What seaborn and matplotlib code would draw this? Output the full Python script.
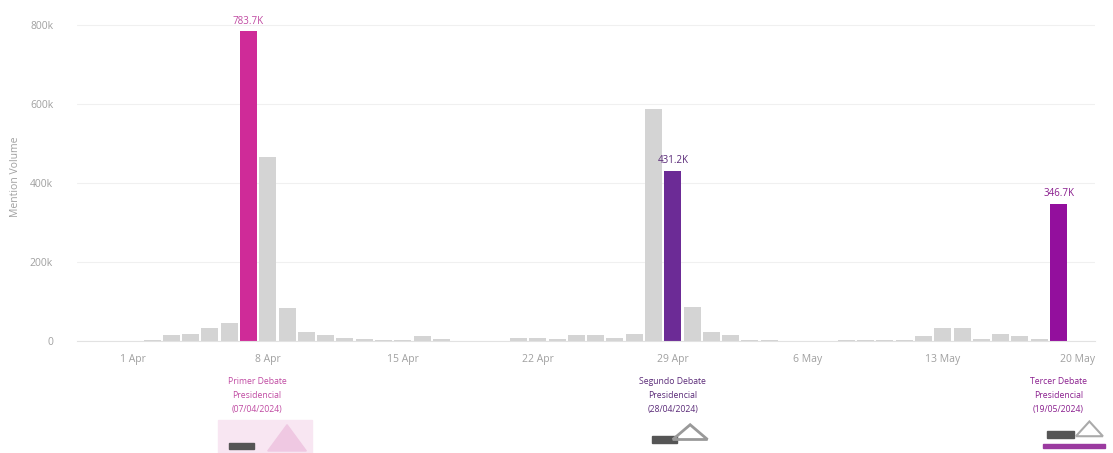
import pandas as pd
import seaborn as sns
import matplotlib.pyplot as plt
import matplotlib.transforms as mtransforms
from matplotlib.patches import Rectangle, Polygon

# Daily mention volume, 1 Apr 2024 .. 19 May 2024
dates = pd.date_range("2024-04-01", "2024-05-19", freq="D")
volume = [
    1_000, 4_000, 16_000, 17_000, 34_000, 45_000, 783_700, 465_000,
    84_000, 23_000, 15_000, 8_000, 6_000, 4_000, 4_000, 12_000,
    5_000, 500, 500, 500, 8_000, 9_000, 5_000, 15_000,
    15_000, 8_000, 19_000, 588_000, 431_200, 87_000, 24_000, 15_000,
    3_000, 2_000, 1_500, 1_000, 1_500, 2_000, 2_000, 3_000,
    2_000, 13_000, 34_000, 34_000, 6_000, 17_000, 14_000, 5_000,
    346_700,
]

# highlighted debate days
debate_dates = ["2024-04-07", "2024-04-29", "2024-05-19"]
debate_keys = ["d1", "d2", "d3"]
debate_labels = [
    "Primer Debate\nPresidencial\n(07/04/2024)",
    "Segundo Debate\nPresidencial\n(28/04/2024)",
    "Tercer Debate\nPresidencial\n(19/05/2024)",
]
value_labels = ["783.7K", "431.2K", "346.7K"]
palette = {"other": "#d4d4d4", "d1": "#cf2b98", "d2": "#6c2b96", "d3": "#930f9d"}
text_colors = {"d1": "#c04aa2", "d2": "#5a2a78", "d3": "#8a1f8e"}

tick_dates = pd.date_range("2024-04-01", "2024-05-20", freq="7D")
tick_labels = [f"{d.day} {d.strftime('%b')}" for d in tick_dates]

df = pd.DataFrame({"date": dates, "volume": volume})
df["day"] = (df["date"] - dates[0]).dt.days
df["kind"] = "other"
for d, k in zip(debate_dates, debate_keys):
    df.loc[df["date"] == pd.Timestamp(d), "kind"] = k

sns.set_style("white")
plt.rcParams["font.family"] = ["Open Sans", "DejaVu Sans"]

fig = plt.figure(figsize=(11.13, 4.53), dpi=100)
ax = fig.add_axes([0.069, 0.247, 0.915, 0.724])

sns.barplot(data=df, x="day", y="volume", hue="kind", palette=palette,
            native_scale=True, dodge=False, width=0.88, legend=False,
            saturation=1, linewidth=0, ax=ax)

ax.set_xlim(-2.9, 49.9)
ax.set_ylim(0, 830_000)
ax.set_yticks([0, 200_000, 400_000, 600_000, 800_000])
ax.set_yticklabels(["0", "200k", "400k", "600k", "800k"])
ax.set_xticks([(d - dates[0]).days for d in tick_dates])
ax.set_xticklabels(tick_labels)
ax.tick_params(axis="both", colors="#a0a0a0", labelsize=7.5, length=0)
ax.tick_params(axis="x", pad=9)
ax.tick_params(axis="y", pad=17)
ax.grid(axis="y", color="#f0f0f0", linewidth=0.8)
ax.set_axisbelow(True)
for s in ["top", "right", "left"]:
    ax.spines[s].set_visible(False)
ax.spines["bottom"].set_color("#e2e2e2")
ax.set_xlabel("")
ax.set_ylabel("Mention Volume", color="#a0a0a0", fontsize=7.5)
ax.yaxis.set_label_coords(-0.055, 0.5)

trans = mtransforms.blended_transform_factory(ax.transData, ax.transAxes)
for d, k, lab, vlab in zip(debate_dates, debate_keys, debate_labels, value_labels):
    x = (pd.Timestamp(d) - dates[0]).days
    y = df.loc[df["date"] == pd.Timestamp(d), "volume"].iloc[0]
    ax.text(x, y + 12_000, vlab, ha="center", va="bottom", fontsize=7,
            color=text_colors[k])
    ax.text(x + (0.45 if k == "d1" else 0), -0.108, lab, transform=trans,
            ha="center", va="top", fontsize=6.2, color=text_colors[k],
            linespacing=1.75)

# rough stand-ins for the debate logos
ax.add_patch(Rectangle((4.4, -0.345), 4.9, 0.105, transform=trans,
                       color="#f8e6f2", clip_on=False, zorder=0))
ax.add_patch(Polygon([(7.0, -0.335), (8.0, -0.255), (9.0, -0.335)], closed=True,
                     transform=trans, color="#efc8e2", clip_on=False))
ax.add_patch(Rectangle((5.0, -0.33), 1.3, 0.02, transform=trans,
                       color="#555555", clip_on=False))
ax.add_patch(Rectangle((26.9, -0.31), 1.3, 0.02, transform=trans,
                       color="#555555", clip_on=False))
ax.add_patch(Polygon([(28.0, -0.3), (28.9, -0.255), (29.8, -0.3)], closed=True,
                     fill=False, edgecolor="#999999", linewidth=2,
                     transform=trans, clip_on=False))
ax.add_patch(Rectangle((47.4, -0.295), 1.4, 0.02, transform=trans,
                       color="#555555", clip_on=False))
ax.add_patch(Polygon([(48.9, -0.29), (49.6, -0.245), (50.3, -0.29)], closed=True,
                     fill=False, edgecolor="#aaaaaa", linewidth=1.5,
                     transform=trans, clip_on=False))
ax.add_patch(Rectangle((47.2, -0.325), 3.2, 0.012, transform=trans,
                       color="#9b3aa0", clip_on=False))

fig.savefig("out.png", dpi=100)
